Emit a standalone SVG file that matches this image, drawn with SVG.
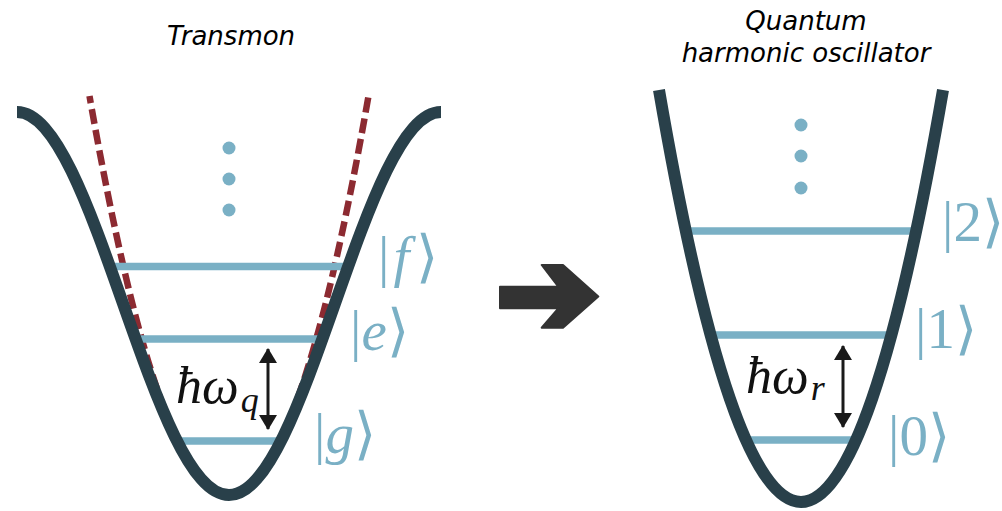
<svg xmlns="http://www.w3.org/2000/svg" width="1002" height="511" viewBox="0 0 1002 511">
  <style>
    .well { fill: none; stroke: #29404a; stroke-width: 12; stroke-linecap: butt; }
    .harm { fill: none; stroke: #8c2a31; stroke-width: 6.5; stroke-dasharray: 15 6; stroke-dashoffset: 8; }
    .level { stroke: #7ab0c5; stroke-width: 7.5; }
    .dot { fill: #7ab0c5; }
    .title { font-family: 'DejaVu Sans', sans-serif; font-style: italic; font-size: 26px; fill: #000; text-anchor: middle; }
    .ket { font-family: 'Liberation Serif', 'Times New Roman', serif; font-size: 57px; fill: #7ab0c5; }
    .ket .l { font-style: italic; }
    .math { font-family: 'Liberation Serif', 'Times New Roman', serif; font-style: italic; fill: #111; }
    .gap { stroke: #1a1a1a; stroke-width: 3; marker-start: url(#head); marker-end: url(#head); }
  </style>
  <defs>
    <marker id="head" viewBox="0 0 15 18" refX="14" refY="9" markerWidth="15" markerHeight="18" markerUnits="userSpaceOnUse" orient="auto-start-reverse">
      <path d="M0,0 L15,9 L0,18 Z" fill="#1a1a1a"/>
    </marker>
  </defs>
  <rect width="1002" height="511" fill="#fff"/>

  <g id="transmon">
    <text class="title" x="231" y="45">Transmon</text>
    <path class="harm" d="M89.5,96 Q229,894 368.5,96"/>
    <line class="level" x1="114" y1="266.5" x2="344" y2="266.5"/>
    <line class="level" x1="139" y1="339" x2="320" y2="339"/>
    <line class="level" x1="179" y1="441" x2="281" y2="441"/>
    <path class="well" d="M17,112 C55.36,112 88.43,205.4 123,303.5 C157.57,401.6 190.64,495 229,495 C267.36,495 300.43,401.6 335,303.5 C369.57,205.4 402.64,112 441,112"/>
    <circle class="dot" cx="229" cy="148" r="6.5"/>
    <circle class="dot" cx="229" cy="179" r="6.5"/>
    <circle class="dot" cx="229" cy="210" r="6.5"/>
    <text class="ket" x="378" y="276">|<tspan class="l" dx="4">f</tspan><tspan dx="7">⟩</tspan></text>
    <text class="ket" x="350" y="350">|<tspan class="l">e</tspan>⟩</text>
    <text class="ket" x="314" y="453">|<tspan class="l">g</tspan>⟩</text>
    <line class="gap" x1="268" y1="349" x2="268" y2="429"/>
    <text class="math" x="176" y="403" font-size="52">ħω<tspan font-size="36" dx="2" dy="9">q</tspan></text>
  </g>

  <g id="oscillator">
    <text class="title" x="806" y="30">Quantum</text>
    <text class="title" x="806" y="62">harmonic oscillator</text>
    <line class="level" x1="686" y1="231" x2="914" y2="231"/>
    <line class="level" x1="713" y1="335" x2="889" y2="335"/>
    <line class="level" x1="748" y1="440" x2="854" y2="440"/>
    <path class="well" d="M659,90 Q801,914 943,90"/>
    <circle class="dot" cx="801" cy="125" r="6.5"/>
    <circle class="dot" cx="801" cy="156" r="6.5"/>
    <circle class="dot" cx="801" cy="188" r="6.5"/>
    <text class="ket" x="942" y="241">|2⟩</text>
    <text class="ket" x="915" y="348">|1⟩</text>
    <text class="ket" x="888" y="455">|0⟩</text>
    <line class="gap" x1="843" y1="346" x2="843" y2="427"/>
    <text class="math" x="746" y="393" font-size="52">ħω<tspan font-size="36" dx="2" dy="7">r</tspan></text>
  </g>

  <g id="connectors">
    <path d="M541.7,265 L563,265 L598.3,296.5 L563,327.7 L541.7,327.7 L558.3,308.3 L500,308.3 L500,286.7 L558.3,286.7 Z" fill="#333" stroke="#333" stroke-width="2" stroke-linejoin="round"/>
  </g>
</svg>
